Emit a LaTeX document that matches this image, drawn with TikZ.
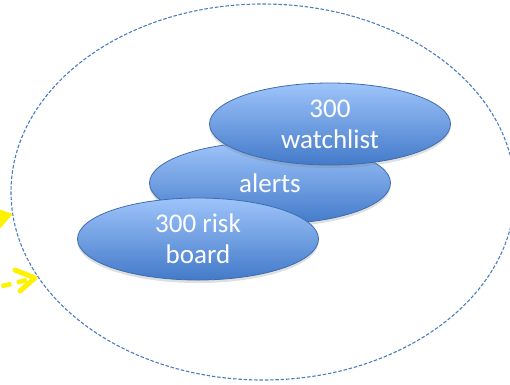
\documentclass[tikz,border=0pt]{standalone}
\usepackage{fontspec}
\setmainfont{Carlito}
\usetikzlibrary{shapes.geometric,shadows,arrows.meta}
\definecolor{frameblue}{HTML}{4A7CC0}
\definecolor{bubbletop}{HTML}{9EC4FA}
\definecolor{bubblebot}{HTML}{437AC9}
\definecolor{bubbleedge}{HTML}{3E6DAE}
\definecolor{hiyellow}{HTML}{FFF200}
\tikzset{
  bubble/.style={ellipse, draw=bubbleedge, line width=0.8pt,
    top color=bubbletop, bottom color=bubblebot,
    minimum width=241pt, minimum height=82pt, inner sep=0pt,
    text=white, align=center, font=\fontsize{27}{31}\selectfont,
    drop shadow={shadow xshift=0pt, shadow yshift=-3pt, opacity=0.25, fill=black!50}},
  frame/.style={ellipse, draw=frameblue, line width=1.1pt,
    dash pattern=on 3.5pt off 1.8pt, minimum width=504pt, minimum height=376pt, inner sep=0pt},
  feed/.style={draw=hiyellow, line width=4.5pt},
  chevron/.style={draw=hiyellow, line width=5pt, line cap=round, line join=round}
}
\begin{document}
\begin{tikzpicture}[x=1pt,y=-1pt]
  \useasboundingbox (0,0) rectangle (510,384);
  % outer dashed boundary
  \node[frame] (zone) at (263,192) {};
  % stacked views
  \node[bubble] (alerts) at (270,183) {alerts};
  \node[bubble] (watch) at (330,124) {300\\watchlist};
  \node[bubble] (risk) at (198,239) {300 risk\\board};
  % incoming feeds from the left
  \coordinate (srcA) at (-40,228);
  \coordinate (tipA) at (13,214);
  \coordinate (srcB) at (-14,290);
  \coordinate (tipB) at (35,278);
  \draw[feed, -{Triangle[length=16pt,width=20pt]}] (srcA) -- (tipA);
  \draw[feed, dash pattern=on 10pt off 6pt, shorten >=4pt] (srcB) -- (tipB);
  % open chevron head of the dashed feed
  \draw[chevron] ([shift={(-20,-8)}]tipB) -- (tipB) -- ([shift={(-15,13)}]tipB);
\end{tikzpicture}
\end{document}
